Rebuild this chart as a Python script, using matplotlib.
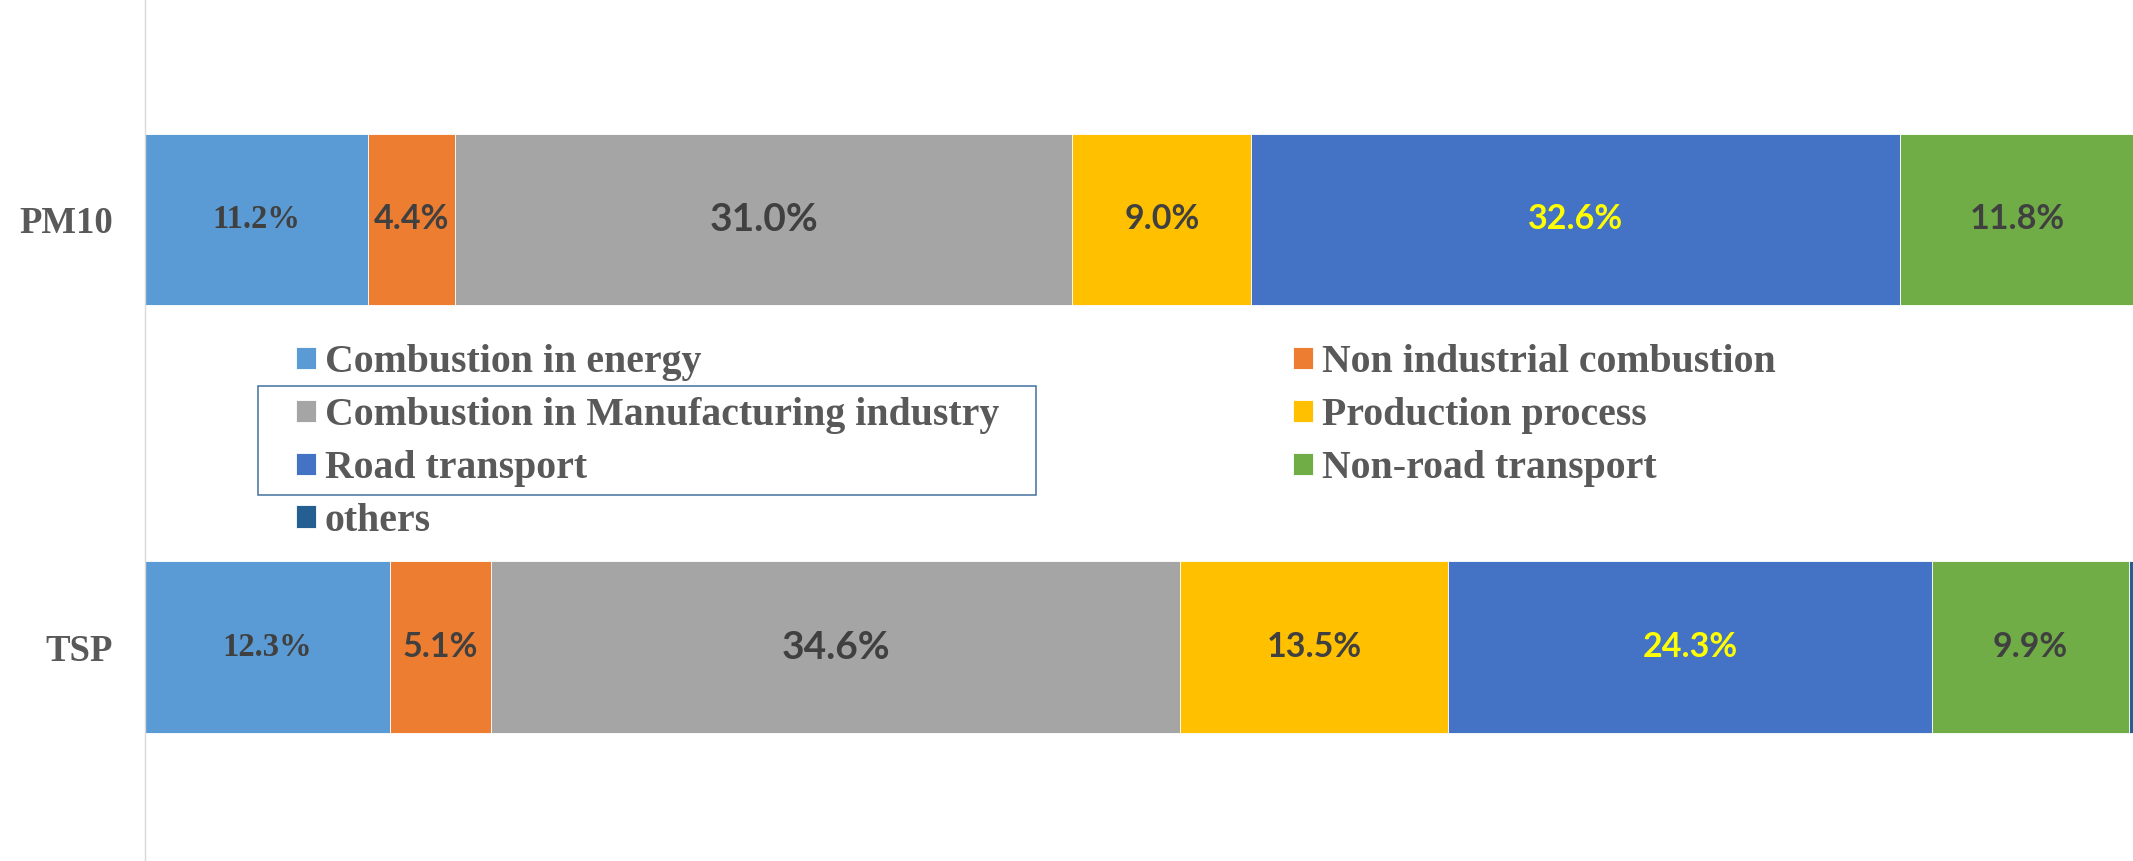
import numpy as np
import matplotlib.pyplot as plt
from matplotlib.patches import Rectangle

# emission source shares (%) for each pollutant
pollutants = ['TSP', 'PM10']
sources = ['Combustion in energy', 'Non industrial combustion',
           'Combustion in Manufacturing industry', 'Production process',
           'Road transport', 'Non-road transport', 'others']
energy = [12.3, 11.2]
non_industrial = [5.1, 4.4]
manufacturing = [34.6, 31.0]
production = [13.5, 9.0]
road = [24.3, 32.6]
non_road = [9.9, 11.8]
others = [0.3, 0.0]

colors = ['#5B9BD5', '#ED7D31', '#A5A5A5', '#FFC000', '#4472C4', '#70AD47', '#255E91']
series = [energy, non_industrial, manufacturing, production, road, non_road, others]

fig = plt.figure(figsize=(21.33, 8.61), dpi=100)
ax = fig.add_axes([145/2133, 0, 1990/2133, 1])

y = np.array([0.5, 1.5])
left = np.zeros(2)
bars = []
for vals, name, c in zip(series, sources, colors):
    b = ax.barh(y, vals, height=0.4, left=left, color=c, edgecolor='white',
                linewidth=0.6, label=name)
    bars.append(b)
    left += np.array(vals)

# data labels in the middle of each segment
serif = 'Liberation Serif'
sans = 'Lato'
for i, (vals, b) in enumerate(zip(series[:6], bars[:6])):
    for j, v in enumerate(vals):
        rect = b[j]
        xc = rect.get_x() + rect.get_width()/2
        yc = rect.get_y() + rect.get_height()/2
        txt = '%.1f%%' % v
        if i == 0:
            ax.text(xc, yc, txt, ha='center', va='center', fontsize=23.5,
                    fontfamily=serif, fontweight='bold', color='#404040')
        elif i == 2:
            ax.text(xc, yc, txt, ha='center', va='center', fontsize=28,
                    fontfamily=sans, fontweight='bold', color='#404040')
        elif i == 4:
            ax.text(xc, yc, txt, ha='center', va='center', fontsize=24.5,
                    fontfamily=sans, fontweight='bold', color='#FFFF00')
        else:
            ax.text(xc, yc, txt, ha='center', va='center', fontsize=24.5,
                    fontfamily=sans, fontweight='bold', color='#404040')

ax.set_xlim(0, 100)
ax.set_ylim(0, 2.012)
ax.set_yticks(y)
ax.set_yticklabels(pollutants, fontfamily=serif, fontweight='bold',
                   fontsize=26.5, color='#595959')
ax.tick_params(axis='y', length=0, pad=23)
ax.set_xticks([])
for s in ['top', 'right', 'bottom']:
    ax.spines[s].set_visible(False)
ax.spines['left'].set_color('#D9D9D9')
ax.spines['left'].set_linewidth(1.0)

# legend: two columns, first column filled with four entries
order = [0, 2, 4, 6, 1, 3, 5]
handles = [bars[k] for k in order]
labels = [sources[k] for k in order]
leg = fig.legend(handles, labels, ncol=2, loc='center left',
                 bbox_to_anchor=(296/2133, 1 - 442/861), frameon=False,
                 prop={'family': serif, 'weight': 'bold', 'size': 28.6},
                 labelcolor='#595959', handlelength=0.5, handleheight=0.5,
                 handletextpad=0.23, columnspacing=7.4, labelspacing=0.4,
                 borderpad=0, borderaxespad=0)

# outline drawn around two of the legend rows
fig.patches.append(Rectangle((258/2133, 1 - 495/861), 778/2133, 109/861,
                             transform=fig.transFigure, fill=False,
                             edgecolor='#41719C', linewidth=1.1))

plt.savefig('out.png', dpi=100)
